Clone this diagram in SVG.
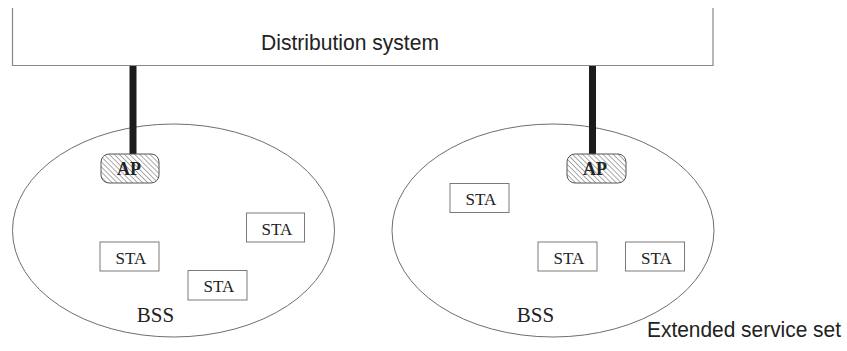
<svg xmlns="http://www.w3.org/2000/svg" width="847" height="351" viewBox="0 0 847 351">
  <style>
    .ds { fill: #ffffff; stroke: #888888; stroke-width: 1.2; }
    .bss { fill: none; stroke: #6e6e6e; stroke-width: 1; }
    .sta { fill: #ffffff; stroke: #7a7a7a; stroke-width: 1; }
    .ap { fill: url(#hatch); stroke: #555555; stroke-width: 1; }
    .wire { stroke: #1c1c1c; stroke-width: 7; }
    .sans { font-family: "Liberation Sans", Arial, sans-serif; fill: #222222; }
    .serif { font-family: "Liberation Serif", "Times New Roman", serif; fill: #222222; }
    .staT { font-size: 17px; text-anchor: middle; }
    .apT { font-size: 18px; font-weight: bold; text-anchor: middle; }
    .bssT { font-size: 21px; text-anchor: middle; }
  </style>
  <defs>
    <pattern id="hatch" patternUnits="userSpaceOnUse" width="3.6" height="3.6" patternTransform="rotate(-45)">
      <rect width="3.6" height="3.6" fill="#ffffff"/>
      <line x1="0" y1="0" x2="0" y2="3.6" stroke="#555555" stroke-width="1"/>
    </pattern>
  </defs>
  <rect width="847" height="351" fill="#ffffff"/>

  <g id="distribution-system">
    <path class="ds" d="M12.5 8 V65.5 H713 V8"/>
    <text class="sans" x="261" y="49.5" font-size="22" textLength="178" lengthAdjust="spacingAndGlyphs">Distribution system</text>
  </g>

  <g id="bss-left">
    <ellipse class="bss" cx="173.5" cy="230.5" rx="161" ry="106.5"/>
    <text class="serif bssT" x="155.5" y="322">BSS</text>
  </g>
  <g id="bss-right">
    <ellipse class="bss" cx="553" cy="230.5" rx="161" ry="106.5"/>
    <text class="serif bssT" x="535.5" y="322">BSS</text>
  </g>

  <g id="connectors">
    <line class="wire" x1="133" y1="66" x2="133" y2="154.5"/>
    <line class="wire" x1="592.5" y1="66" x2="592.5" y2="154.5"/>
  </g>

  <g id="ap-left">
    <rect class="ap" x="101" y="154" width="58" height="29" rx="8"/>
    <text class="serif apT" x="129" y="175">AP</text>
  </g>
  <g id="ap-right">
    <rect class="ap" x="567" y="154" width="59" height="29" rx="8"/>
    <text class="serif apT" x="595" y="175">AP</text>
  </g>

  <g id="sta-left-1">
    <rect class="sta" x="100" y="242" width="59" height="29"/>
    <text class="serif staT" x="131" y="263.5">STA</text>
  </g>
  <g id="sta-left-2">
    <rect class="sta" x="246.5" y="213" width="58" height="29"/>
    <text class="serif staT" x="277" y="234.5">STA</text>
  </g>
  <g id="sta-left-3">
    <rect class="sta" x="188" y="270.5" width="59" height="29.5"/>
    <text class="serif staT" x="219" y="292">STA</text>
  </g>

  <g id="sta-right-1">
    <rect class="sta" x="450" y="183.5" width="59" height="29"/>
    <text class="serif staT" x="481" y="205">STA</text>
  </g>
  <g id="sta-right-2">
    <rect class="sta" x="538" y="242" width="59" height="29"/>
    <text class="serif staT" x="569" y="263.5">STA</text>
  </g>
  <g id="sta-right-3">
    <rect class="sta" x="625.5" y="242" width="59" height="29"/>
    <text class="serif staT" x="656.5" y="263.5">STA</text>
  </g>

  <g id="ess-label">
    <text class="sans" x="647" y="337" font-size="22" textLength="194" lengthAdjust="spacingAndGlyphs">Extended service set</text>
  </g>
</svg>
